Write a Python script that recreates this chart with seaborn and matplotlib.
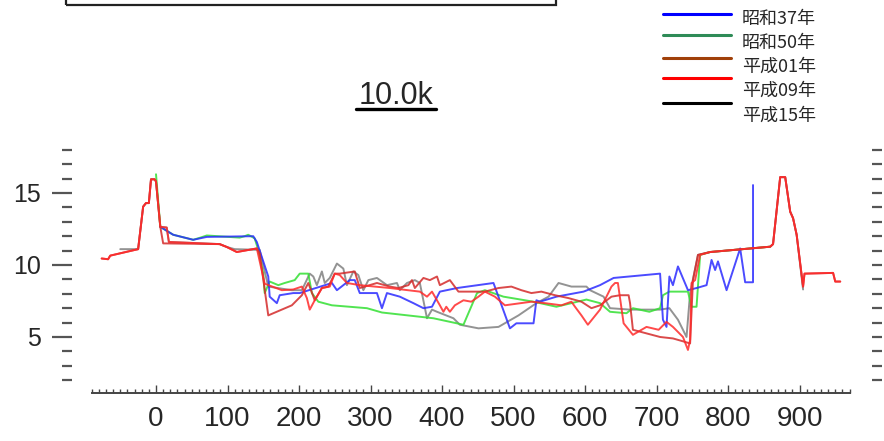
import numpy as np
import pandas as pd
import matplotlib
matplotlib.use('Agg')
import matplotlib.pyplot as plt
from matplotlib.lines import Line2D
from matplotlib.patches import Rectangle
import seaborn as sns

# Cross-section profiles (distance, elevation)
s37_x = [6, 24, 52, 71, 136, 141, 157, 159, 169, 173, 192, 201, 246, 253, 271, 278, 285, 309, 316,
         323, 341, 360, 374, 386, 397, 421, 472, 495, 504, 528, 532, 537, 560, 598, 621, 640, 705,
         709, 714, 718, 723, 730, 744, 756, 770, 777, 782, 786, 798, 817, 824, 835, 835]
s37_y = [12.65, 12.1, 11.75, 11.95, 12.0, 11.6, 9.2, 7.8, 7.35, 7.9, 8.05, 8.05, 8.75, 8.25, 8.95,
         8.95, 8.05, 8.05, 7.0, 8.05, 7.8, 7.35, 7.0, 7.1, 8.15, 8.4, 8.75, 5.6, 5.95, 5.95, 7.55,
         7.45, 7.8, 8.15, 8.6, 9.1, 9.4, 6.2, 5.7, 9.2, 8.6, 9.9, 8.25, 8.4, 8.6, 10.35, 9.65, 10.25,
         8.25, 11.15, 8.8, 8.8, 15.55]

s50_x = [0, 6, 24, 52, 62, 71, 117, 124, 129, 138, 143, 150, 152, 159, 171, 180, 194, 201, 213,
         218, 227, 246, 295, 316, 388, 430, 449, 460, 486, 528, 560, 602, 621, 635, 658, 667, 690,
         705, 709, 718, 744, 749, 756, 761, 775, 859]
s50_y = [16.3, 12.65, 12.1, 11.75, 11.9, 12.05, 11.9, 12.0, 12.1, 11.85, 11.05, 9.4, 8.05, 8.85,
         8.6, 8.75, 8.95, 9.4, 9.4, 8.05, 7.45, 7.2, 7.0, 6.7, 6.3, 5.85, 8.05, 8.25, 7.8, 7.45, 7.1,
         7.6, 7.35, 6.75, 6.65, 7.0, 6.75, 7.0, 7.9, 8.15, 8.15, 7.1, 7.1, 10.7, 10.9, 11.27]

h01_x = [-76, -67, -64, -25, -18, -14, -10, -7, -2, 0, 6, 10, 89, 99, 113, 141, 145, 157, 190,
         204, 213, 222, 232, 241, 250, 257, 278, 285, 309, 327, 339, 353, 358, 362, 374, 383, 393,
         397, 411, 423, 432, 460, 479, 497, 511, 525, 539, 558, 577, 595, 609, 621, 637, 649, 661,
         663, 667, 686, 705, 723, 737, 747, 751, 758, 775, 859, 863, 873, 880, 887, 891, 896, 905,
         907, 947, 950, 957]
h01_y = [10.45, 10.4, 10.65, 11.1, 14.05, 14.3, 14.3, 15.95, 15.95, 15.8, 12.65, 11.5, 11.45,
         11.25, 10.9, 11.15, 10.8, 6.5, 7.2, 7.9, 8.75, 7.55, 8.4, 8.5, 9.4, 9.4, 9.55, 8.4, 8.75,
         8.5, 8.4, 8.6, 8.95, 8.4, 9.1, 8.95, 9.2, 8.6, 8.95, 8.15, 8.15, 8.15, 8.4, 8.5, 8.25, 8.05,
         8.15, 7.9, 7.7, 7.45, 7.0, 7.2, 7.8, 7.9, 7.9, 7.35, 5.5, 5.25, 5.0, 4.9, 4.7, 4.55, 8.95,
         10.7, 10.9, 11.27, 11.45, 16.1, 16.1, 13.7, 13.25, 12.1, 8.5, 9.4, 9.45, 8.85, 8.85]

h09_x = [-76, -67, -64, -25, -18, -14, -10, -7, -2, 0, 6, 15, 18, 89, 99, 113, 141, 152, 176, 192,
         204, 211, 215, 222, 232, 243, 250, 257, 267, 285, 327, 369, 379, 386, 397, 402, 406, 411,
         418, 430, 441, 451, 460, 474, 488, 525, 544, 567, 581, 586, 595, 604, 621, 637, 642, 646,
         649, 654, 667, 686, 703, 714, 723, 737, 744, 747, 749, 754, 761, 775, 859, 863, 873, 880,
         887, 891, 896, 905, 907, 947, 950, 957]
h09_y = [10.45, 10.4, 10.65, 11.1, 14.05, 14.3, 14.3, 15.95, 15.95, 15.8, 12.65, 12.6, 11.6, 11.45,
         11.25, 10.9, 11.15, 8.7, 8.25, 8.3, 8.5, 7.7, 6.9, 7.55, 8.4, 8.5, 9.4, 9.3, 8.75, 8.6, 8.4,
         8.15, 7.8, 8.15, 7.2, 6.75, 7.1, 6.75, 7.2, 7.55, 7.45, 7.8, 8.15, 7.8, 7.2, 7.45, 7.35,
         7.2, 7.45, 7.1, 6.5, 5.85, 6.9, 8.5, 8.75, 8.75, 7.7, 5.95, 5.15, 5.7, 5.5, 6.05, 5.7, 5.0,
         4.1, 4.8, 8.75, 8.95, 10.7, 10.9, 11.27, 11.45, 16.1, 16.1, 13.7, 13.25, 12.1, 8.5, 9.4,
         9.45, 8.85, 8.85]

h15_x = [-50, -25, -18, -14, -10, -7, -2, 0, 6, 15, 18, 89, 99, 110, 145, 157, 190, 204, 215, 220,
         225, 232, 236, 243, 253, 262, 267, 276, 283, 290, 297, 309, 323, 337, 341, 351, 362, 369,
         379, 386, 393, 416, 425, 451, 479, 507, 532, 549, 563, 581, 602, 607, 626, 635, 663, 705,
         718, 730, 742, 747, 758, 775, 859, 863, 873, 880, 887, 891, 896, 905]
h15_y = [11.1, 11.1, 14.05, 14.3, 14.3, 15.95, 15.95, 15.8, 12.65, 12.6, 11.6, 11.45, 11.25, 11.1,
         11.05, 8.5, 8.25, 8.25, 9.4, 9.2, 8.6, 9.55, 8.75, 9.1, 10.1, 9.75, 8.6, 9.55, 9.3, 8.25,
         8.95, 9.1, 8.6, 8.75, 8.25, 8.75, 8.95, 8.75, 6.3, 6.9, 6.75, 6.3, 5.85, 5.6, 5.7, 6.5, 7.35,
         7.8, 8.75, 8.5, 8.5, 8.25, 7.8, 7.0, 6.9, 6.9, 7.0, 6.2, 5.0, 8.05, 10.7, 10.9, 11.27, 11.45,
         16.1, 16.1, 13.7, 13.25, 12.1, 8.3]

labels = ['昭和37年', '昭和50年', '平成01年', '平成09年', '平成15年']
plot_colors = ['#2b2bff', '#33e033', '#d42a2a', '#ff2a2a', '#808080']
legend_colors = ['#0000ff', '#2e8b57', '#a0400a', '#ff0000', '#000000']

sns.set_style('white')
plt.rcParams['font.family'] = ['Liberation Sans', 'Noto Sans CJK JP', 'DejaVu Sans']

series = [(s37_x, s37_y), (s50_x, s50_y), (h01_x, h01_y), (h09_x, h09_y), (h15_x, h15_y)]
frames = []
for lab, (xs, ys) in zip(labels, series):
    frames.append(pd.DataFrame({'dist': xs, 'elev': ys, 'year': lab}))
df = pd.concat(frames, ignore_index=True)

fig = plt.figure(figsize=(8.84, 4.41), dpi=100)
W, H = 884, 441
ax = fig.add_axes([72 / W, 48 / H, 800 / W, 253 / H])

# draw gray first, reds last so they sit on top
draw_order = ['平成15年', '昭和50年', '昭和37年', '平成01年', '平成09年']
for lab in draw_order:
    i = labels.index(lab)
    sns.lineplot(data=df[df['year'] == lab], x='dist', y='elev', color=plot_colors[i],
                 sort=False, estimator=None, lw=1.4, alpha=0.85, ax=ax, legend=False)

ax.set_xlim(-117.5, 1001.4)
ax.set_ylim(1.11, 18.68)
ax.set_xlabel('')
ax.set_ylabel('')

for side in ['top', 'left', 'right']:
    ax.spines[side].set_visible(False)
ax.spines['bottom'].set_bounds(-90, 970)
ax.spines['bottom'].set_color('#444444')
ax.spines['bottom'].set_linewidth(1.4)

ax.set_xticks(np.arange(0, 1000, 100))
ax.set_xticks(np.arange(-90, 980, 10), minor=True)
ax.tick_params(axis='x', which='major', bottom=True, direction='in', length=5.5, width=1,
               color='#444444', labelsize=20, pad=9)
ax.tick_params(axis='x', which='minor', bottom=True, direction='in', length=3, width=1,
               color='#444444')

ax.set_yticks([5, 10, 15])
ax.set_yticks(np.arange(2, 19, 1), minor=True)
ax.tick_params(axis='y', which='major', left=True, direction='out', length=14.4, width=1.6,
               color='#555555', labelsize=18, pad=8)
ax.tick_params(axis='y', which='minor', left=True, direction='out', length=7.2, width=1.6,
               color='#555555')

ax2 = ax.twinx()
ax2.set_ylim(ax.get_ylim())
for side in ['top', 'left', 'right', 'bottom']:
    ax2.spines[side].set_visible(False)
ax2.set_yticks(np.arange(2, 19, 1))
ax2.tick_params(axis='y', right=True, direction='out', length=7.2, width=1.6, color='#555555',
                labelright=False)
ax2.grid(False)

# title, underlined
fig.text(396 / W, 1 - 104 / H, '10.0k', ha='center', va='baseline', fontsize=22)
fig.add_artist(Line2D([356 / W, 436 / W], [1 - 108.5 / H] * 2, color='black', lw=2.4))

# clipped box at the top
fig.add_artist(Rectangle((66 / W, 1 - 4.5 / H), 490 / W, 0.2, fill=False, lw=1.6,
                         edgecolor='#222222', transform=fig.transFigure, clip_on=False))

# legend drawn by hand
line_y = [14, 35, 58, 78, 103]
text_y = [19, 43, 67, 91, 116]
for i, lab in enumerate(labels):
    fig.add_artist(Line2D([663 / W, 731 / W], [1 - line_y[i] / H] * 2,
                          color=legend_colors[i], lw=2.2))
    fig.text(742 / W, 1 - text_y[i] / H, lab, ha='left', va='center', fontsize=13,
             family=['Noto Sans CJK JP', 'DejaVu Sans'])

fig.savefig('out.png', dpi=100)
